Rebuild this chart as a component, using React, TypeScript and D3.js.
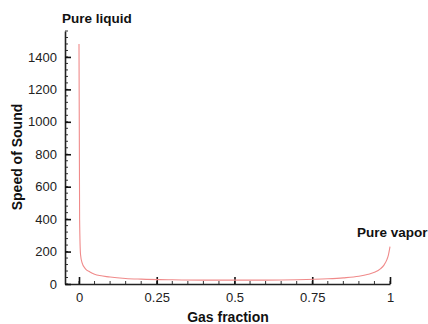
import React, { useRef, useEffect } from "react";
import * as d3 from "d3";

// gas fraction vs speed of sound
const gasFraction = [0, 0.002, 0.005, 0.01, 0.02, 0.035, 0.05, 0.1, 0.15, 0.2, 0.3, 0.4, 0.5, 0.6, 0.7, 0.8, 0.85, 0.9, 0.93, 0.95, 0.97, 0.98, 0.99, 0.995, 1];
const speed = [1480, 400, 180, 130, 95, 74, 60, 43, 34, 30, 26, 24, 24, 24, 26, 32, 38, 48, 60, 72, 95, 115, 150, 180, 230];

const xTicks = [0, 0.25, 0.5, 0.75, 1];
const xTickLabels = ["0", "0.25", "0.5", "0.75", "1"];
const yTicks = [0, 200, 400, 600, 800, 1000, 1200, 1400];

const W = 428;
const H = 324;

const App = () => {
  const svgRef = useRef<SVGSVGElement>(null);

  useEffect(() => {
    const svg = d3.select(svgRef.current);
    svg.selectAll("*").remove();

    const x = d3.scaleLinear().domain([-0.045, 1]).range([65, 390]);
    const y = d3.scaleLinear().domain([0, 1560]).range([284, 31]);
    const font = "Liberation Sans, Arial, sans-serif";

    // minor ticks
    const xMinor = d3.range(0, 1.0001, 0.05);
    const yMinor = d3.range(0, 1561, 40);

    const gx = svg.append("g").attr("transform", `translate(0,${y(0)})`);
    gx.selectAll("line.minor")
      .data(xMinor)
      .enter()
      .append("line")
      .attr("x1", (d) => x(d))
      .attr("x2", (d) => x(d))
      .attr("y1", 0)
      .attr("y2", -3)
      .attr("stroke", "#333")
      .attr("stroke-width", 1);
    gx.call(
      d3
        .axisBottom(x)
        .tickValues(xTicks)
        .tickFormat((d, i) => xTickLabels[i])
        .tickSizeInner(-7)
        .tickSizeOuter(0)
        .tickPadding(9)
    );
    gx.select(".domain").attr("stroke", "#222").attr("stroke-width", 1.6);
    gx.selectAll(".tick line").attr("stroke", "#111").attr("stroke-width", 1.6);
    gx.selectAll(".tick text")
      .attr("font-family", font)
      .attr("font-size", 13)
      .attr("fill", "#222");

    const gy = svg.append("g").attr("transform", `translate(${x(-0.045)},0)`);
    gy.selectAll("line.minor")
      .data(yMinor)
      .enter()
      .append("line")
      .attr("x1", 0)
      .attr("x2", 3)
      .attr("y1", (d) => y(d))
      .attr("y2", (d) => y(d))
      .attr("stroke", "#333")
      .attr("stroke-width", 1);
    gy.call(
      d3
        .axisLeft(y)
        .tickValues(yTicks)
        .tickFormat(d3.format("d"))
        .tickSizeInner(-6)
        .tickSizeOuter(0)
        .tickPadding(8)
    );
    gy.select(".domain").attr("stroke", "#222").attr("stroke-width", 1.6);
    gy.selectAll(".tick line").attr("stroke", "#111").attr("stroke-width", 1.6);
    gy.selectAll(".tick text")
      .attr("font-family", font)
      .attr("font-size", 13)
      .attr("fill", "#222");

    const pts = gasFraction.map((g, i) => [g, speed[i]] as [number, number]);
    const line = d3
      .line<[number, number]>()
      .x((d) => x(d[0]))
      .y((d) => y(d[1]))
      .curve(d3.curveMonotoneX);

    svg
      .append("path")
      .datum(pts)
      .attr("d", line)
      .attr("fill", "none")
      .attr("stroke", "#f08a8a")
      .attr("stroke-width", 1.1);

    const label = (txt: string, tx: number, ty: number, size: number, anchor = "start") =>
      svg
        .append("text")
        .attr("x", tx)
        .attr("y", ty)
        .attr("text-anchor", anchor)
        .attr("font-family", font)
        .attr("font-size", size)
        .attr("font-weight", "bold")
        .attr("fill", "#111")
        .text(txt);

    label("Pure liquid", 62, 23, 13.5);
    label("Pure vapor", 357, 237, 13.5);
    label("Gas fraction", 228, 322, 14, "middle");

    svg
      .append("text")
      .attr("transform", `translate(22,157) rotate(-90)`)
      .attr("text-anchor", "middle")
      .attr("font-family", font)
      .attr("font-size", 14)
      .attr("font-weight", "bold")
      .attr("fill", "#111")
      .text("Speed of Sound");
  }, []);

  return (
    <svg
      ref={svgRef}
      width={W}
      height={H}
      style={{ position: "absolute", left: 0, top: 0, background: "#fff" }}
    ></svg>
  );
};

export default App;
